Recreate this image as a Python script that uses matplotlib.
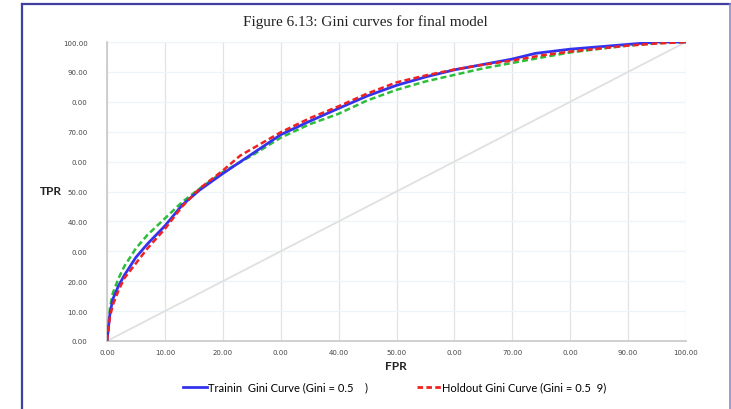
import matplotlib
matplotlib.use("Agg")
import matplotlib.pyplot as plt
from matplotlib.lines import Line2D

# ---- data ----
train_fpr = [0, 0.5, 1, 2, 3, 5, 7, 10, 13, 16, 20, 25, 30, 35, 40, 45, 50, 55, 60, 65, 70, 74, 80, 85, 90, 95, 100]
train_tpr = [0, 9, 14, 18.5, 22, 28, 32.5, 38.5, 45.5, 50.5, 56, 62.5, 69, 73.5, 77.8, 82, 85.5, 88.3, 90.7, 92.5, 94.3, 96.2, 97.6, 98.4, 99.2, 100, 100]

hold_fpr = [0, 0.5, 1, 2, 3, 5, 7, 10, 13, 16, 20, 23, 30, 35, 40, 45, 50, 55, 60, 65, 70, 75, 80, 85, 90, 95, 100]
hold_tpr = [0, 8, 12, 17, 21, 26, 31, 37.5, 45, 51, 57, 62, 69.8, 74.5, 78.5, 82.8, 86.5, 88.8, 90.8, 92.4, 93.8, 95.5, 96.8, 97.8, 98.8, 99.5, 100]

third_fpr = [0, 0.5, 1, 2, 3, 5, 7, 10, 13, 16, 20, 25, 30, 35, 40, 45, 50, 55, 60, 65, 70, 75, 80, 85, 90, 95, 100]
third_tpr = [0, 11, 16, 21, 25, 31, 35.5, 41, 46.5, 51, 56.5, 62, 68, 72.5, 76, 80.5, 84, 86.8, 89, 91.2, 93, 94.8, 96.5, 97.7, 98.8, 99.6, 100]

diag = [0, 100]

tick_vals = [0, 10, 20, 30, 40, 50, 60, 70, 80, 90, 100]
x_tick_labels = ["0.00", "10.00", "20.00", "0.00", "40.00", "50.00", "0.00", "70.00", "0.00", "90.00", "100.00"]
y_tick_labels = ["0.00", "10.00", "20.00", "0.00", "40.00", "50.00", "0.00", "70.00", "0.00", "90.00", "100.00"]

title = "Figure 6.13: Gini curves for final model"
train_label = "Trainin  Gini Curve (Gini = 0.5    )"
hold_label = "Holdout Gini Curve (Gini = 0.5  9)"

# ---- figure ----
W, H = 731, 410
fig = plt.figure(figsize=(W / 100, H / 100), dpi=100)
fig.patch.set_facecolor("white")

# frame lines
fig.add_artist(Line2D([22 / W, 22 / W], [-0.01, 1 - 5 / H], color="#3f3f9f", lw=1.6))
fig.add_artist(Line2D([22 / W, 730 / W], [1 - 5 / H, 1 - 5 / H], color="#3f3f9f", lw=1.6))
fig.add_artist(Line2D([729.5 / W, 729.5 / W], [-0.01, 1 - 5 / H], color="#8a8acc", lw=1.2))

fig.text(365 / W, 1 - 22 / H, title, ha="center", va="center",
         fontsize=11, family="Liberation Serif", color="#222222")

ax = fig.add_axes([107 / W, 1 - 342 / H, (686 - 107) / W, (342 - 43) / H])
ax.set_xlim(0, 100)
ax.set_ylim(0, 100)

ax.plot(diag, diag, color="#e0e0e0", lw=1.3, zorder=1)
ax.plot(third_fpr, third_tpr, color="#2ebd3a", lw=1.8, ls=(0, (2.4, 1.3)), zorder=3)
ax.plot(train_fpr, train_tpr, color="#3333ee", lw=2.0, zorder=4)
ax.plot(hold_fpr, hold_tpr, color="#ee2222", lw=1.8, ls=(0, (2.4, 1.3)), zorder=5)

ax.set_xticks(tick_vals)
ax.set_xticklabels(x_tick_labels)
ax.set_yticks(tick_vals)
ax.set_yticklabels(y_tick_labels)
ax.tick_params(axis="both", length=0, labelsize=5, labelcolor="#444444")
ax.tick_params(axis="x", pad=6)
ax.tick_params(axis="y", pad=14)

ax.grid(axis="x", color="#e3e3e3", lw=0.9)
ax.grid(axis="y", color="#eef3f8", lw=0.9)
ax.set_axisbelow(True)
for s in ["top", "right"]:
    ax.spines[s].set_visible(False)
ax.spines["left"].set_color("#c8c8c8")
ax.spines["bottom"].set_color("#c8c8c8")
ax.spines["left"].set_linewidth(1.2)
ax.spines["bottom"].set_linewidth(1.2)

fig.text(51 / W, 1 - 192 / H, "TPR", ha="center", va="center",
         fontsize=8.5, fontweight="bold", family="Lato", color="#222222")
fig.text(396 / W, 1 - 367 / H, "FPR", ha="center", va="center",
         fontsize=8.5, fontweight="bold", family="Lato", color="#222222")

h_train = Line2D([], [], color="#3333ee", lw=2.0)
h_hold = Line2D([], [], color="#ee2222", lw=2.0, ls=(0, (2, 1.2)))
common = dict(loc="center left", frameon=False, prop={"family": "Lato", "size": 8},
              handlelength=2.2, handletextpad=0.05, borderpad=0, borderaxespad=0)
leg1 = fig.legend([h_train], [train_label], bbox_to_anchor=(183 / W, 1 - 388 / H), **common)
leg2 = fig.legend([h_hold], [hold_label], bbox_to_anchor=(417 / W, 1 - 388 / H), **common)

fig.savefig("out.png", dpi=100)
